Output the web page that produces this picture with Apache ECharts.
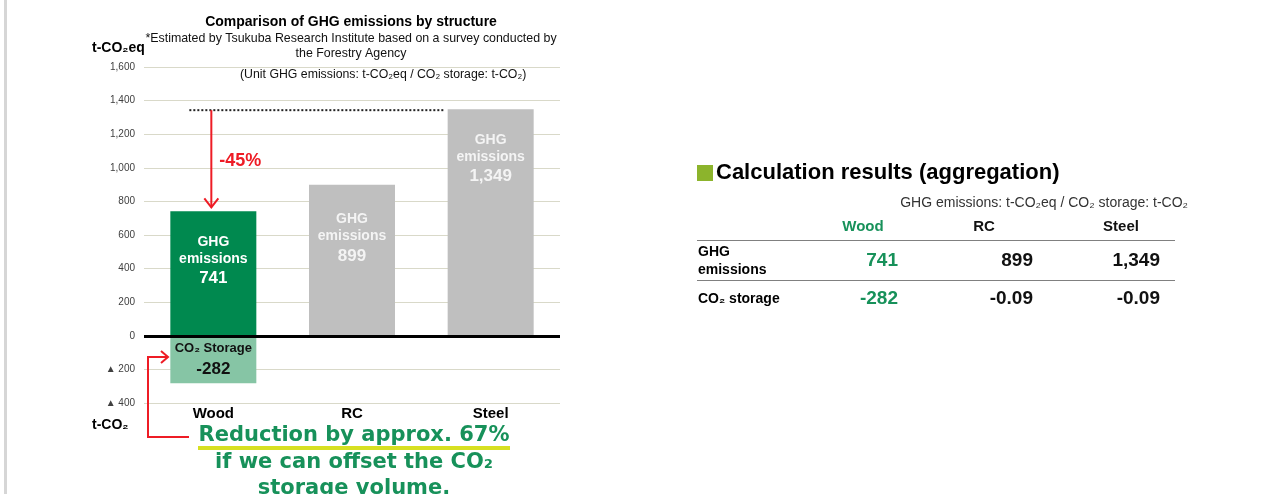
<!DOCTYPE html>
<html>
<head>
<meta charset="utf-8">
<title>Comparison of GHG emissions by structure</title>
<script src="https://cdn.jsdelivr.net/npm/echarts@6/dist/echarts.min.js"></script>
<style>
html, body { margin: 0; padding: 0; background: #fff; }
#chart { width: 1287px; height: 494px; }
</style>
</head>
<body>
<div id="chart"></div>
<script>
// data
var categories = ['Wood', 'RC', 'Steel'];
var ghgValues = [741, 899, 1349];
var storageValues = [-282, -0.09, -0.09];
var yMin = -400;
var yMax = 1600;
var yStep = 200;

var FONT = '"Liberation Sans", Arial, sans-serif';
var WOOD_GREEN = '#00894f';
var BAR_GRAY = '#bfbfbf';
var STORAGE_GREEN = '#86c5a5';
var TEXT_GREEN = '#17915a';
var RED = '#ee1c25';

var fmt = function (v) {
    return v.toLocaleString('en-US');
};

var chart = echarts.init(document.getElementById('chart'));

// ghg bars: wood green, others gray
var ghgData = ghgValues.map(function (v, i) {
    return {
        value: v,
        itemStyle: { color: i === 0 ? WOOD_GREEN : BAR_GRAY },
        label: { color: i === 0 ? '#ffffff' : '#f4f4f4', distance: i === 1 ? 26 : 22 }
    };
});

// only wood has a visible storage bar
var storageData = storageValues.map(function (v, i) {
    return { value: v, label: { show: i === 0 } };
});

chart.setOption({
    animation: false,
    grid: { left: 144, right: 727, top: 67, bottom: 91 },
    xAxis: {
        type: 'category',
        data: categories,
        position: 'bottom',
        axisLine: { show: false, onZero: false },
        axisTick: { show: false },
        axisLabel: { margin: 3, color: '#000', fontSize: 15, fontWeight: 'bold', fontFamily: FONT }
    },
    yAxis: {
        type: 'value',
        min: yMin,
        max: yMax,
        interval: yStep,
        axisLine: { show: false },
        axisTick: { show: false },
        splitLine: { lineStyle: { color: '#d9d9c9', width: 1 } },
        axisLabel: {
            margin: 9,
            color: '#404040',
            fontSize: 10,
            fontFamily: FONT,
            formatter: function (v) {
                return v < 0 ? '\u25B2 ' + fmt(-v) : fmt(v);
            }
        }
    },
    series: [
        {
            name: 'GHG emissions',
            type: 'bar',
            stack: 'total',
            barWidth: 86,
            data: ghgData,
            label: {
                show: true,
                position: 'insideTop',
                distance: 22,
                fontFamily: FONT,
                formatter: function (p) {
                    return '{a|GHG}\n{a|emissions}\n{b|' + fmt(p.value) + '}';
                },
                rich: {
                    a: { fontSize: 14, fontWeight: 'bold', fontFamily: FONT, lineHeight: 17 },
                    b: { fontSize: 17, fontWeight: 'bold', fontFamily: FONT, lineHeight: 23 }
                }
            }
        },
        {
            name: 'CO\u2082 storage',
            type: 'bar',
            stack: 'total',
            barWidth: 86,
            itemStyle: { color: STORAGE_GREEN },
            data: storageData,
            label: {
                position: 'inside',
                color: '#111',
                fontFamily: FONT,
                formatter: function (p) {
                    return '{a|CO\u2082 Storage}\n{b|' + fmt(p.value) + '}';
                },
                rich: {
                    a: { fontSize: 13, fontWeight: 'bold', fontFamily: FONT, lineHeight: 19 },
                    b: { fontSize: 17, fontWeight: 'bold', fontFamily: FONT, lineHeight: 22 }
                }
            },
            markLine: {
                silent: true,
                symbol: ['none', 'none'],
                label: { show: false },
                lineStyle: { color: '#000', width: 3, type: 'solid' },
                data: [{ yAxis: 0 }]
            }
        }
    ]
});

// annotations placed from the axes
var woodTop = chart.convertToPixel({ gridIndex: 0 }, [0, ghgValues[0]]);
var steelTop = chart.convertToPixel({ gridIndex: 0 }, [2, ghgValues[2]]);
var arrowX = woodTop[0] - 2;
var arrowTip = woodTop[1] - 4;

var txt = function (text, x, y, font, color, align) {
    return {
        type: 'text',
        x: x,
        y: y,
        style: {
            text: text,
            font: font,
            fill: color || '#000',
            textAlign: align || 'left',
            textVerticalAlign: 'middle'
        }
    };
};
var seg = function (points, color, width, dash) {
    return {
        type: 'polyline',
        shape: { points: points },
        style: { stroke: color, lineWidth: width, fill: null, lineDash: dash || null }
    };
};

var elements = [
    { type: 'rect', shape: { x: 4, y: 0, width: 3, height: 494 }, style: { fill: '#d6d6d6' } },

    txt('Comparison of GHG emissions by structure', 351, 22, 'bold 14px ' + FONT, '#000', 'center'),
    txt('*Estimated by Tsukuba Research Institute based on a survey conducted by', 351, 39, '12.4px ' + FONT, '#111', 'center'),
    txt('the Forestry Agency', 351, 54, '12.4px ' + FONT, '#111', 'center'),
    txt('(Unit GHG emissions: t-CO\u2082eq / CO\u2082 storage: t-CO\u2082)', 240, 75, '12.3px ' + FONT, '#111'),
    txt('t-CO\u2082eq', 92, 48, 'bold 14px ' + FONT),
    txt('t-CO\u2082', 92, 425, 'bold 14px ' + FONT),

    // dotted reference at steel level and the -45% arrow
    seg([[woodTop[0] - 24, steelTop[1] + 1], [steelTop[0] - 47, steelTop[1] + 1]], '#222', 2, [2, 2]),
    seg([[arrowX, steelTop[1] + 1], [arrowX, arrowTip]], RED, 2),
    seg([[arrowX - 7, arrowTip - 9], [arrowX, arrowTip], [arrowX + 7, arrowTip - 9]], RED, 2),
    txt('-45%', arrowX + 8, 161, 'bold 18px ' + FONT, RED),

    // bracket from storage to the note
    seg([[189, 437], [148, 437], [148, 357], [168, 357]], RED, 2),
    seg([[161, 351], [168, 357], [161, 363]], RED, 2),

    { type: 'rect', shape: { x: 198, y: 446, width: 312, height: 4 }, style: { fill: '#d7e021' } },
    txt('Reduction by approx. 67%', 354, 436, 'bold 21px "DejaVu Sans", ' + FONT, TEXT_GREEN, 'center'),
    txt('if we can offset the CO\u2082', 354, 463, 'bold 21px "DejaVu Sans", ' + FONT, TEXT_GREEN, 'center'),
    txt('storage volume.', 354, 489, 'bold 21px "DejaVu Sans", ' + FONT, TEXT_GREEN, 'center'),

    // results table on the right
    { type: 'rect', shape: { x: 697, y: 165, width: 16, height: 16 }, style: { fill: '#8cb42c' } },
    txt('Calculation results (aggregation)', 716, 173, 'bold 22px ' + FONT),
    txt('GHG emissions: t-CO\u2082eq / CO\u2082 storage: t-CO\u2082', 1188, 203, '14px ' + FONT, '#333', 'right'),
    seg([[697, 240.5], [1175, 240.5]], '#808080', 1),
    seg([[697, 280.5], [1175, 280.5]], '#808080', 1),
    txt('GHG', 698, 252, 'bold 14px ' + FONT),
    txt('emissions', 698, 270, 'bold 14px ' + FONT),
    txt('CO\u2082 storage', 698, 299, 'bold 14px ' + FONT)
];

var headerCenter = [863, 984, 1121];
var valueRight = [898, 1033, 1160];
categories.forEach(function (c, i) {
    var color = i === 0 ? TEXT_GREEN : '#111';
    elements.push(txt(c, headerCenter[i], 227, 'bold 15px ' + FONT, color, 'center'));
    elements.push(txt(fmt(ghgValues[i]), valueRight[i], 261, 'bold 19px ' + FONT, color, 'right'));
    elements.push(txt(fmt(storageValues[i]), valueRight[i], 299, 'bold 19px ' + FONT, color, 'right'));
});

chart.setOption({ graphic: { elements: elements } });
</script>
</body>
</html>
